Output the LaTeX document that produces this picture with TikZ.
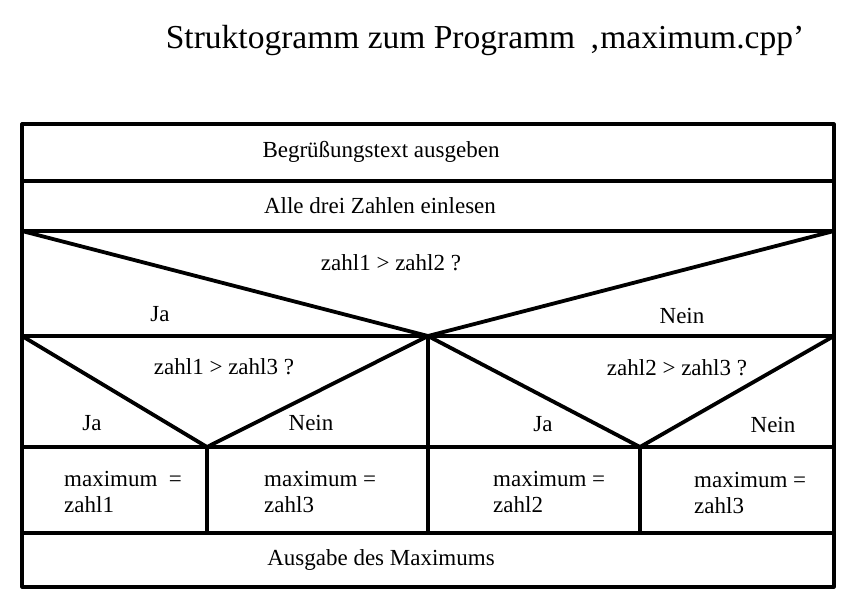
\documentclass[tikz,border=0pt]{standalone}
\usepackage{fontspec}
\setmainfont{Liberation Serif}
\begin{document}
\begin{tikzpicture}[x=1pt,y=-1pt,
  frame/.style={line width=3.2pt,line cap=round,line join=round},
  diag/.style={line width=3.8pt,line cap=round},
  txt/.style={font=\fontsize{23}{26}\selectfont,inner sep=0pt},
  ltxt/.style={font=\fontsize{23}{26}\selectfont,inner sep=0pt,anchor=base west}]
\useasboundingbox (0,0) rectangle (855,614);
% corner coordinates
\coordinate (TL) at (22,124);
\coordinate (TR) at (834,124);
\coordinate (BL) at (22,587);
\coordinate (BR) at (834,587);
\coordinate (L1) at (22,181);  \coordinate (R1) at (834,181);
\coordinate (L2) at (22,231);  \coordinate (R2) at (834,231);
\coordinate (L3) at (22,336);  \coordinate (R3) at (834,336);
\coordinate (L4) at (22,447);  \coordinate (R4) at (834,447);
\coordinate (L5) at (22,533);  \coordinate (R5) at (834,533);
\coordinate (A0) at (428,336);
\coordinate (A0b) at (428,533);
\coordinate (A1) at (207,447);
\coordinate (A1b) at (207,533);
\coordinate (A2) at (640,447);
\coordinate (A2b) at (640,533);
% frame and rows
\draw[frame] (TL) -- (TR) -- (BR) -- (BL) -- cycle;
\draw[frame] (L1) -- (R1);
\draw[frame] (L2) -- (R2);
\draw[frame] (L3) -- (R3);
\draw[frame] (L4) -- (R4);
\draw[frame] (L5) -- (R5);
\draw[frame] (A0) -- (A0b);
\draw[frame] (A1) -- (A1b);
\draw[frame] (A2) -- (A2b);
% diagonals
\draw[diag] (L2) -- (A0) -- (R2);
\draw[diag] (L3) -- (A1) -- (A0);
\draw[diag] (A0) -- (A2) -- (R3);
% title
\node[inner sep=0pt,font=\fontsize{33.5}{36}\selectfont] (title) at (485,40) {Struktogramm zum Programm \,‚maximum.cpp’};
% texts
\node[txt] (t1) at (381,152) {Begrüßungstext ausgeben};
\node[txt] (t2) at (380,206) {Alle drei Zahlen einlesen};
\node[txt] (q1) at (391,263) {zahl1 > zahl2 ?};
\node[txt] (ja1) at (160,314) {Ja};
\node[txt] (nein1) at (682,316) {Nein};
\node[txt] (q2) at (224,367) {zahl1 > zahl3 ?};
\node[txt] (ja2) at (92,423) {Ja};
\node[txt] (nein2) at (311,423) {Nein};
\node[txt] (q3) at (677,368) {zahl2 > zahl3 ?};
\node[txt] (ja3) at (543,424) {Ja};
\node[txt] (nein3) at (773,425) {Nein};
\node[ltxt] (m1a) at (64,486) {maximum \ =};
\node[ltxt] (m1b) at (64,512) {zahl1};
\node[ltxt] (m2a) at (264,486) {maximum =};
\node[ltxt] (m2b) at (264,512) {zahl3};
\node[ltxt] (m3a) at (493,486) {maximum =};
\node[ltxt] (m3b) at (493,512) {zahl2};
\node[ltxt] (m4a) at (694,487) {maximum =};
\node[ltxt] (m4b) at (694,513) {zahl3};
\node[txt] (out) at (381,560) {Ausgabe des Maximums};
\end{tikzpicture}
\end{document}
